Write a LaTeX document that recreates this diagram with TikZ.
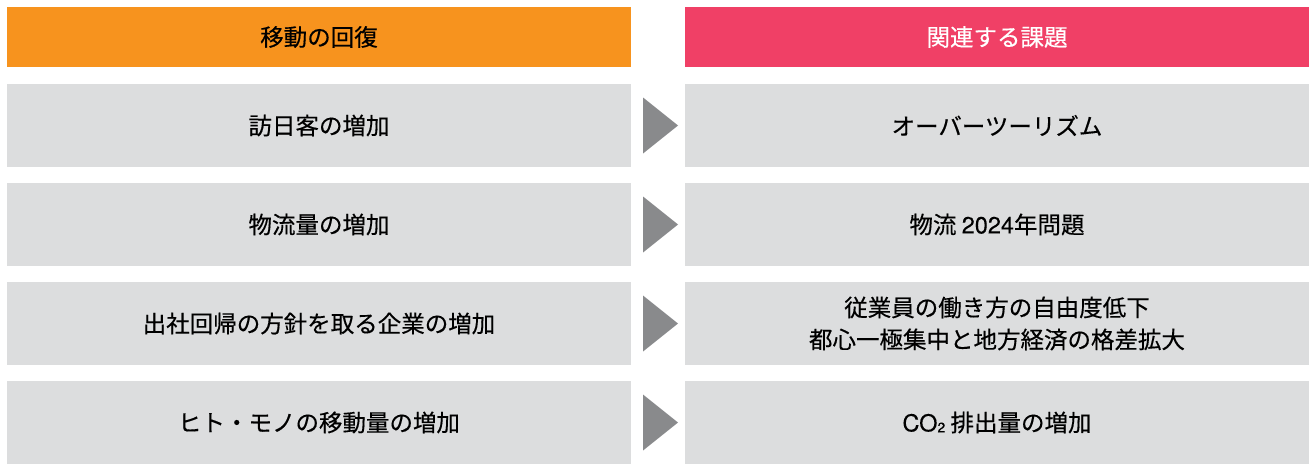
\documentclass[tikz,border=0pt]{standalone}
\usepackage{fontspec}
\setmainfont{Noto Sans CJK JP}[FakeBold=0.35]
\newfontfamily\latinfont{TeX Gyre Heros}[FakeBold=0.2]
\definecolor{hdrorange}{HTML}{F7931E}
\definecolor{hdrpink}{HTML}{F04066}
\definecolor{rowgray}{HTML}{DCDDDE}
\definecolor{arrgray}{HTML}{898A8C}
\tikzset{
  box/.style={minimum width=624pt, minimum height=83pt, inner sep=0pt, outer sep=0pt,
    fill=rowgray, align=center, font=\fontsize{23.5}{32}\selectfont, text=black},
  hdr/.style={box, minimum height=60pt},
  tri/.style={fill=arrgray, draw=none}
}
\begin{document}
\begin{tikzpicture}[x=1pt,y=1pt]
\useasboundingbox (0,0) rectangle (1309,-464);
% headers
\node[hdr, fill=hdrorange, text=black] (hl) at (319,-37) {移動の回復};
\node[hdr, fill=hdrpink, text=white] (hr) at (997,-37) {関連する課題};
% rows
\node[box] (l1) at (319,-125.5) {訪日客の増加};
\node[box] (r1) at (997,-125.5) {オーバーツーリズム};
\node[box] (l2) at (319,-224.5) {物流量の増加};
\node[box] (r2) at (997,-224.5) {物流 {\latinfont 2024}年問題};
\node[box] (l3) at (319,-323.5) {出社回帰の方針を取る企業の増加};
\node[box] (r3) at (997,-323.5) {従業員の働き方の自由度低下\\都心一極集中と地方経済の格差拡大};
\node[box] (l4) at (319,-422.5) {ヒト・モノの移動量の増加};
\node[box] (r4) at (997,-422.5) {{\latinfont CO{\fontsize{14}{14}\selectfont\raisebox{-1pt}{2}}} 排出量の増加};
% arrows
\foreach \i in {1,2,3,4}{
  \fill[tri] ([xshift=12pt,yshift=28pt]l\i.east) -- ([xshift=-7pt]r\i.west) -- ([xshift=12pt,yshift=-28pt]l\i.east) -- cycle;
}
\end{tikzpicture}
\end{document}
